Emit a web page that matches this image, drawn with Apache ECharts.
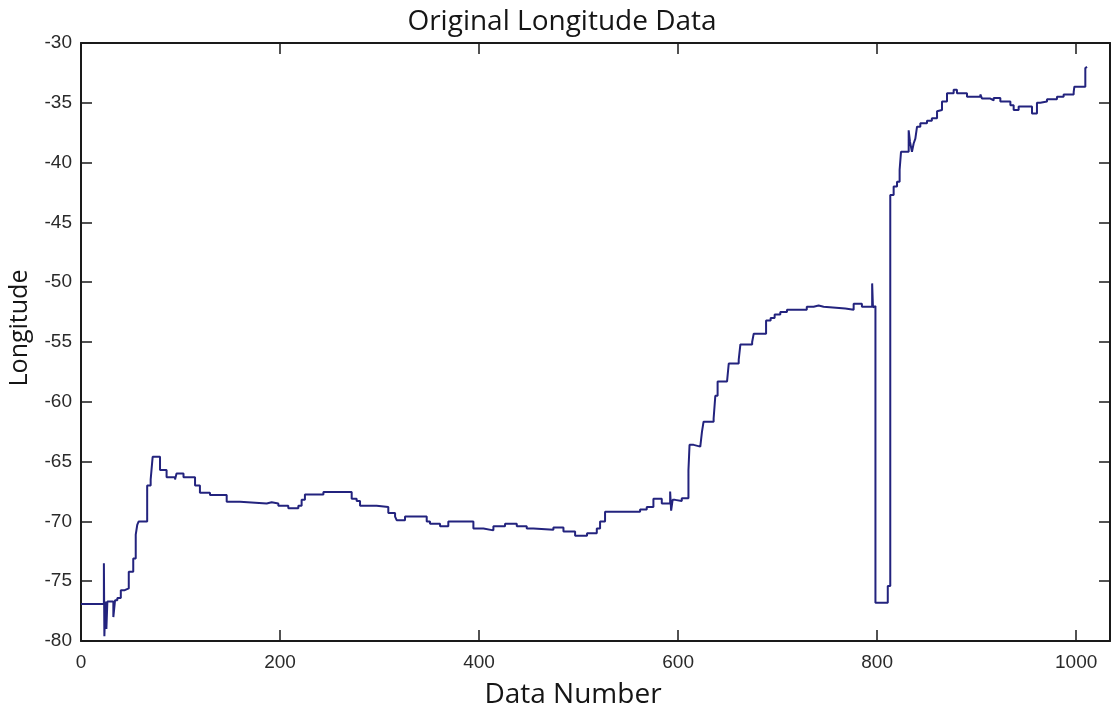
<!DOCTYPE html>
<html>
<head>
<meta charset="utf-8">
<script src="https://cdn.jsdelivr.net/npm/echarts@6/dist/echarts.min.js"></script>
<style>
html,body{margin:0;padding:0;background:#fff;}
#chart{width:1120px;height:709px;}
</style>
</head>
<body>
<div id="chart"></div>
<script>
// Plateau start points (step series): data number and longitude
const dataNumber = [
  0, 23, 23.5, 24.5, 25.5, 26.5, 32.5, 34.2, 36.5, 40, 44, 48, 52.5, 55, 56.5, 58,
  66.5, 70, 72, 79.4, 86, 94.5, 96, 103, 114.6, 119.5, 129.6, 146.4, 159.8,
  186.6, 191.6, 198.3, 208.3, 218.4, 221.7, 225, 243.6, 272, 277, 280.4, 297.1,
  308.8, 315.6, 317.2, 325.6, 347.4, 350.7, 360.8, 369.1, 394.3, 404.4, 414.4,
  426.1, 437.9, 447.9, 454.6, 474.7, 484.8, 496.5, 508.5, 518.3, 521.6, 526.6,
  561.8, 568.5, 575.2, 583.6, 592, 593, 594.5, 597, 603.7, 610.4, 611.5, 615.6,
  622.3, 624, 625.6, 635.7, 637.4, 639.7, 649.2, 650.9, 660.9, 662.6, 674.4, 676,
  688.4, 693, 697, 702.7, 709.4, 729.3, 736.2, 741.2, 746.2, 768, 776.4, 784.7,
  795, 795.8, 797.5, 798.3, 810.7, 813.2, 816.6, 820, 822.6, 824, 831.7, 833, 835,
  836.7, 838.4, 840.1, 843.4, 850.1, 855, 860.2, 861.8, 865.2, 870.2, 876.9, 880.2,
  890.3, 903.7, 905.4, 913.8, 917.1, 923.8, 933.9, 937.2, 942.2, 955.6, 960.6, 964,
  970.7, 980.7, 987.4, 997.5, 998.2, 1009.2, 1010.9
];
const longitude = [
  -76.9, -73.5, -79.6, -76.7, -79.0, -76.7, -78.0, -76.6, -76.4, -75.75, -75.6, -74.2, -73.1, -71.1, -70.3, -70.0,
  -67.0, -66.5, -64.6, -65.7, -66.3, -66.5, -66.0, -66.3, -67.0, -67.6, -67.8, -68.35, -68.5,
  -68.4, -68.5, -68.7, -68.9, -68.7, -68.2, -67.75, -67.55, -68.1, -68.3, -68.7, -68.8,
  -69.3, -69.6, -69.9, -69.6, -70.0, -70.2, -70.4, -70.0, -70.6, -70.75, -70.4,
  -70.2, -70.4, -70.6, -70.7, -70.5, -70.85, -71.2, -71.0, -70.6, -70.0, -69.2,
  -69.0, -68.8, -68.1, -68.5, -67.5, -69.1, -68.2, -68.3, -68.07, -65.7, -63.6, -63.75,
  -63.6, -62.5, -61.66, -61.4, -59.5, -58.3, -58.2, -56.8, -56.5, -55.2, -55.0, -54.3,
  -53.2, -53.0, -52.7, -52.5, -52.3, -52.05, -51.95, -52.05, -52.2, -52.3, -51.8, -52.05,
  -50.1, -52.1, -52.0, -76.8, -75.4, -42.7, -42.0, -41.6, -40.6, -39.1, -37.3, -38.25, -39.1,
  -38.4, -38.0, -37.0, -36.7, -36.5, -36.3, -35.7, -35.6, -34.9, -34.2, -33.9, -34.2,
  -34.5, -34.3, -34.65, -34.8, -34.6, -34.9, -35.2, -35.6, -35.3, -35.9, -35.0, -34.9,
  -34.7, -34.5, -34.3, -34.1, -33.65, -32.1, -32.0
];
const xTicks = [0, 200, 400, 600, 800, 1000];
const yTicks = [-80, -75, -70, -65, -60, -55, -50, -45, -40, -35, -30];
const titleText = 'Original Longitude Data';
const xLabel = 'Data Number';
const yLabel = 'Longitude';

const points = dataNumber.map((x, i) => [x, longitude[i]]);

const chart = echarts.init(document.getElementById('chart'), null, {renderer: 'canvas'});
const axisLineStyle = {color: '#1a1a1a', width: 2};
const tickStyle = {show: true, inside: true, length: 11, lineStyle: {color: '#1a1a1a', width: 1.5}};
const labelStyle = {fontFamily: 'Liberation Sans, Arial, sans-serif', fontSize: 19, color: '#2a2a2a'};

function xAxisCfg(pos, showLabel) {
  return {
    type: 'value', position: pos, min: 0, max: 1034, interval: 200,
    axisLine: {show: true, onZero: false, lineStyle: axisLineStyle},
    axisTick: Object.assign({}, tickStyle, {customValues: xTicks}),
    axisLabel: Object.assign({show: showLabel, margin: 12, customValues: xTicks,
      formatter: v => String(v)}, labelStyle),
    splitLine: {show: false}
  };
}
function yAxisCfg(pos, showLabel) {
  return {
    type: 'value', position: pos, min: -80, max: -30, interval: 5,
    axisLine: {show: true, onZero: false, lineStyle: axisLineStyle},
    axisTick: Object.assign({}, tickStyle, {customValues: yTicks}),
    axisLabel: Object.assign({show: showLabel, margin: 9, customValues: yTicks,
      formatter: v => String(v)}, labelStyle),
    splitLine: {show: false}
  };
}

chart.setOption({
  animation: false,
  backgroundColor: '#ffffff',
  grid: {left: 81, right: 10, top: 43, bottom: 68, containLabel: false},
  xAxis: [xAxisCfg('bottom', true), xAxisCfg('top', false)],
  yAxis: [yAxisCfg('left', true), yAxisCfg('right', false)],
  graphic: [
    {type: 'text', x: 562, y: 22, style: {text: titleText, font: '28px "Open Sans"', fill: '#151515', textAlign: 'center', textVerticalAlign: 'middle'}},
    {type: 'text', x: 573, y: 695, style: {text: xLabel, font: '28px "Open Sans"', fill: '#151515', textAlign: 'center', textVerticalAlign: 'middle'}},
    {type: 'text', x: 20, y: 328, rotation: Math.PI / 2, style: {text: yLabel, font: '25px "Open Sans"', fill: '#151515', textAlign: 'center', textVerticalAlign: 'middle'}}
  ],
  series: [{
    type: 'line',
    xAxisIndex: 0, yAxisIndex: 0,
    data: points,
    step: 'end',
    showSymbol: false,
    symbol: 'none',
    lineStyle: {color: '#23237e', width: 2},
    clip: true
  }]
});
</script>
</body>
</html>
